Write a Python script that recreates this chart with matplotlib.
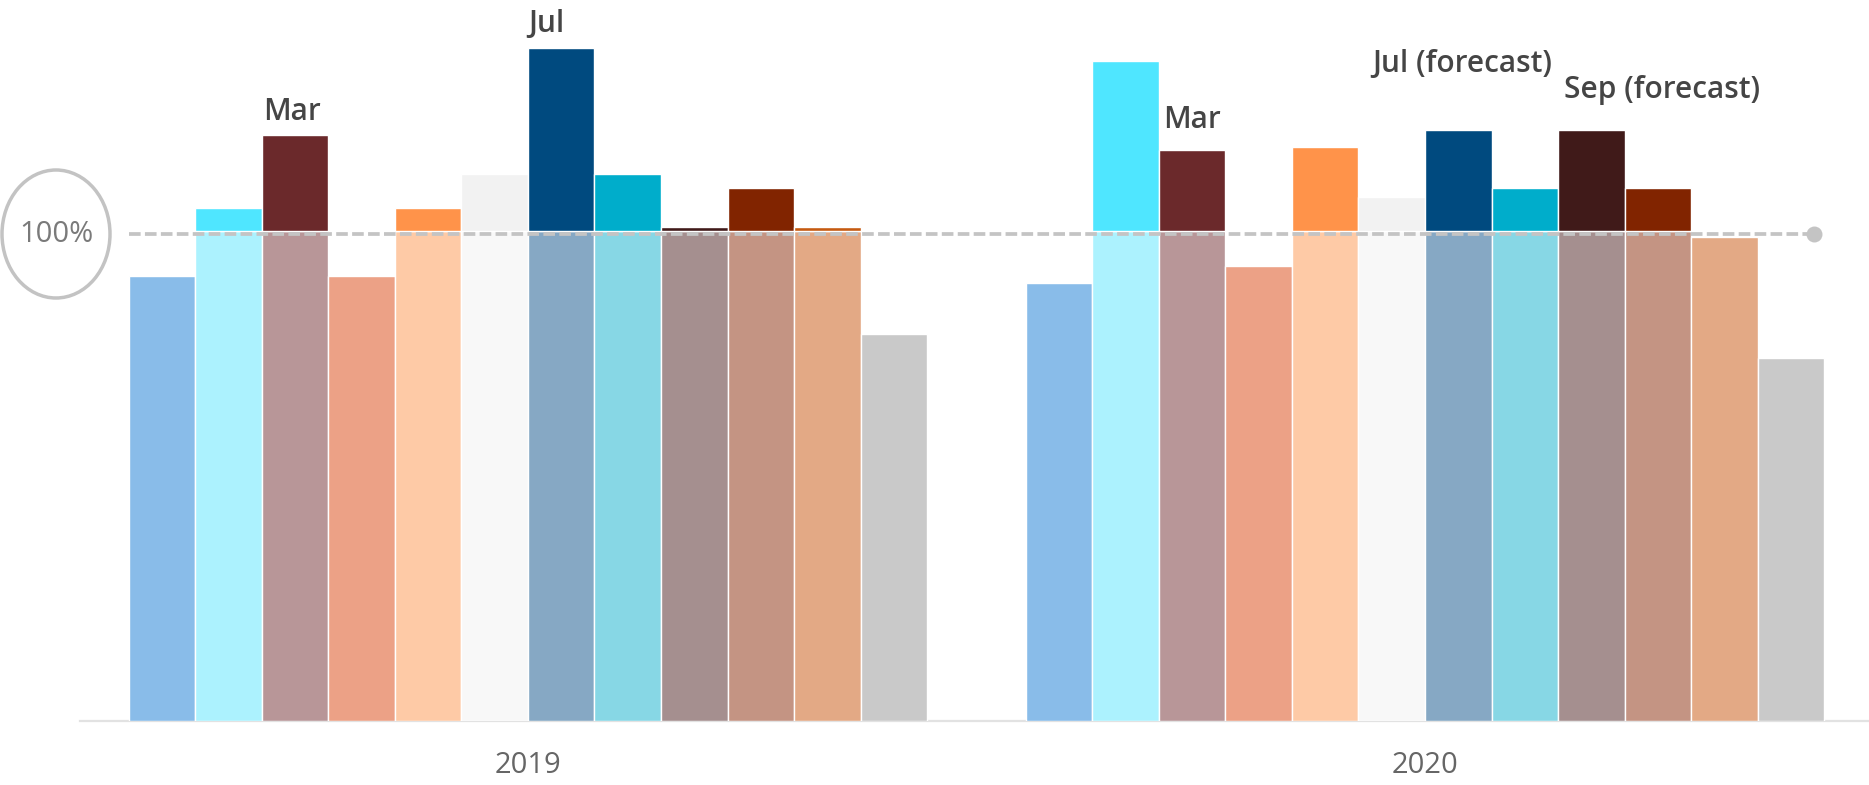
import matplotlib
matplotlib.use("Agg")
import matplotlib.pyplot as plt
from matplotlib.patches import Ellipse
from matplotlib.transforms import ScaledTranslation

plt.rcParams['font.family'] = ['Open Sans', 'DejaVu Sans']

# --- data -----------------------------------------------------------------
years = ["2019", "2020"]
months = ["Jan", "Feb", "Mar", "Apr", "May", "Jun",
          "Jul", "Aug", "Sep", "Oct", "Nov", "Dec"]
values_2019 = [90.8, 104.7, 119.6, 90.8, 104.7, 111.7,
               137.4, 111.7, 100.8, 108.7, 100.8, 79.0]
values_2020 = [89.3, 134.6, 116.6, 92.9, 117.1, 106.9,
               120.6, 108.7, 120.6, 108.7, 98.8, 74.0]
target = 100
target_label = "100%"
# (year index, month index, text)
callouts = [(0, 2, "Mar"), (0, 6, "Jul"), (1, 2, "Mar"),
            (1, 6, "Jul (forecast)"), (1, 8, "Sep (forecast)")]

# --- styling --------------------------------------------------------------
strong_colors = ["#0470D0", "#4FE6FF", "#6B292B", "#D73702", "#FF934A", "#F2F2F2",
                 "#004A7F", "#00ADCB", "#401A19", "#812400", "#C55A11", "#8C8C8C"]
soft_colors = ["#89BCE9", "#ACF2FE", "#B89698", "#ECA186", "#FECAA6", "#F8F8F8",
               "#86A8C4", "#87D7E5", "#A58F8F", "#C49483", "#E3A985", "#C9C9C9"]
# (anchor, horizontal alignment, dx px, dy px) for each callout
callout_layout = [("left", "left", 1.5, 15), ("left", "left", 0, 15.5),
                  ("left", "left", 4, 22), ("center", "center", 4, 58),
                  ("left", "left", 6, 32)]

W, H, DPI = 1869, 785, 100
fig = plt.figure(figsize=(W / DPI, H / DPI), dpi=DPI)
ax = fig.add_axes([80 / W, 64 / H, 1 - 80 / W, 721 / H])

group_width = 0.89
bw = group_width / len(months)
series = [values_2019, values_2020]


def bar_x(g, m):
    return g + (m - (len(months) - 1) / 2) * bw


for g, vals in enumerate(series):
    for m, v in enumerate(vals):
        x = bar_x(g, m)
        ax.bar(x, min(v, target), width=bw, color=soft_colors[m],
               edgecolor="white", linewidth=1.0, zorder=2)
        if v > target:
            ax.bar(x, v - target, bottom=target, width=bw, color=strong_colors[m],
                   edgecolor="white", linewidth=1.0, zorder=2)

# target reference line with end dot
x_start = bar_x(0, 0) - bw / 2
x_end = bar_x(1, len(months) - 1) + 0.35 * bw
shift = ax.transData + ScaledTranslation(0, -3 / DPI, fig.dpi_scale_trans)
ax.plot([x_start, x_end], [target, target], color="#C4C4C4", linewidth=2.7,
        dashes=(3.1, 1.15), dash_capstyle="butt", transform=shift, zorder=4)
ax.plot([x_end], [target], marker="o", markersize=11.5, color="#C4C4C4",
        markeredgewidth=0, transform=shift, zorder=4)

# month callouts
for (g, m, text), (anchor, ha, dx, dy) in zip(callouts, callout_layout):
    v = series[g][m]
    xa = bar_x(g, m) - bw / 2 if anchor == "left" else bar_x(g, m)
    ax.annotate(text, xy=(xa, v), xytext=(dx * 0.72, dy * 0.72),
                textcoords="offset points", ha=ha, va="baseline",
                fontsize=21.5, fontweight="semibold", color="#454545", zorder=5)

# axes styling
ax.set_xlim(-0.4994, 1.495)
ax.set_ylim(0, 721 / 490 * 100)
for side in ("top", "right", "left"):
    ax.spines[side].set_visible(False)
ax.spines["bottom"].set_color("#E2E2E2")
ax.spines["bottom"].set_linewidth(1.6)
ax.spines["bottom"].set_zorder(1)
ax.set_yticks([])
ax.set_xticks(range(len(years)))
ax.set_xticklabels(years, fontsize=21, color="#666666")
ax.tick_params(axis="x", length=0, pad=21.5)

# circled target label on the left
fig.patches.append(Ellipse((56 / W, 1 - 234 / H), 108 / W, 128 / H,
                           transform=fig.transFigure, facecolor="none",
                           edgecolor="#C3C3C3", linewidth=2.5))
fig.text(56 / W, 1 - 234 / H, target_label, ha="center", va="center",
         fontsize=21, color="#7A7A7A")

fig.savefig("out.png", dpi=DPI, facecolor="white")
